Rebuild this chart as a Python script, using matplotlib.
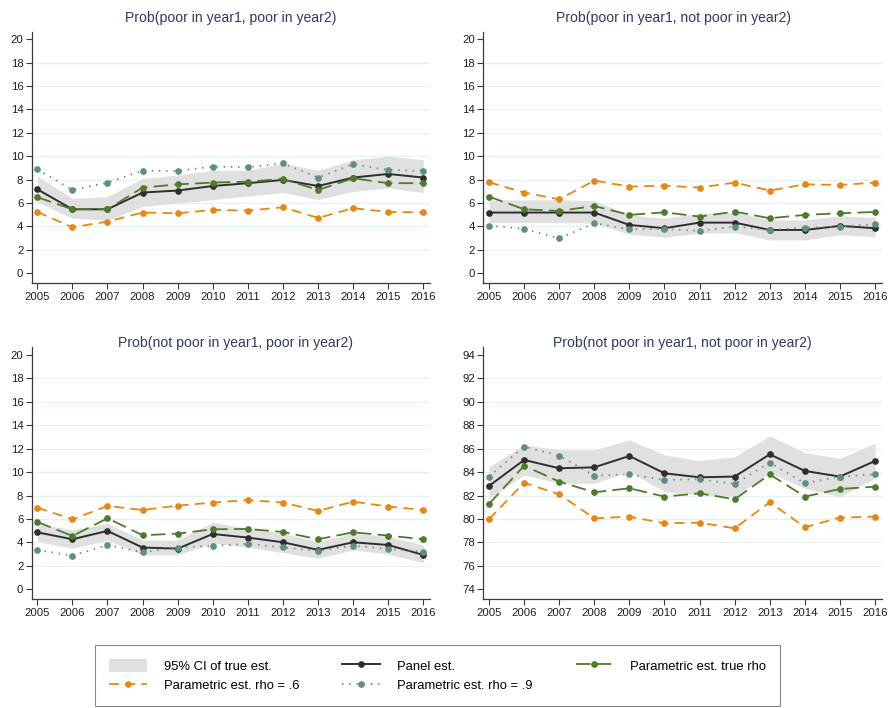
import matplotlib
matplotlib.use("Agg")
import matplotlib.pyplot as plt
from matplotlib.lines import Line2D
from matplotlib.patches import Patch

plt.rcParams['font.family'] = ['Liberation Sans', 'DejaVu Sans']

years = list(range(2005, 2017))

# Prob(poor in year1, poor in year2)
pp_ci_lo = [6.1, 4.7, 4.55, 5.7, 6.0, 6.3, 6.6, 6.9, 6.3, 7.0, 7.3, 6.9]
pp_ci_hi = [8.3, 6.4, 6.55, 8.1, 8.4, 8.8, 8.8, 9.4, 8.8, 9.7, 10.0, 9.7]
pp_panel = [7.18, 5.47, 5.47, 6.90, 7.07, 7.46, 7.70, 7.98, 7.46, 8.18, 8.49, 8.18]
pp_true = [6.50, 5.47, 5.47, 7.32, 7.60, 7.75, 7.83, 8.06, 7.12, 8.12, 7.70, 7.70]
pp_rho6 = [5.24, 3.93, 4.42, 5.19, 5.13, 5.41, 5.36, 5.64, 4.73, 5.56, 5.24, 5.21]
pp_rho9 = [8.89, 7.12, 7.75, 8.77, 8.75, 9.12, 9.06, 9.40, 8.18, 9.32, 8.83, 8.75]

# Prob(poor in year1, not poor in year2)
pn_ci_lo = [4.33, 4.33, 4.33, 4.30, 3.33, 3.08, 3.42, 3.48, 2.85, 2.85, 3.28, 3.13]
pn_ci_hi = [6.27, 6.27, 6.27, 6.20, 5.00, 4.70, 5.13, 5.19, 4.56, 4.56, 4.90, 4.79]
pn_panel = [5.19, 5.19, 5.19, 5.19, 4.13, 3.85, 4.33, 4.33, 3.70, 3.70, 4.05, 3.85]
pn_true = [6.55, 5.47, 5.33, 5.75, 4.99, 5.21, 4.84, 5.27, 4.70, 4.99, 5.13, 5.24]
pn_rho6 = [7.78, 6.90, 6.32, 7.92, 7.41, 7.49, 7.32, 7.75, 7.07, 7.60, 7.55, 7.75]
pn_rho9 = [4.07, 3.79, 2.99, 4.27, 3.76, 3.79, 3.62, 3.99, 3.70, 3.90, 3.99, 4.19]

# Prob(not poor in year1, poor in year2)
np_ci_lo = [4.07, 3.50, 4.20, 2.93, 2.93, 3.93, 3.58, 3.13, 2.65, 3.36, 2.99, 2.28]
np_ci_hi = [5.63, 5.06, 5.63, 4.20, 4.20, 5.72, 5.20, 4.78, 4.07, 4.78, 4.50, 3.78]
np_panel = [4.86, 4.27, 4.98, 3.56, 3.47, 4.72, 4.41, 4.01, 3.36, 4.01, 3.78, 2.93]
np_true = [5.75, 4.55, 6.06, 4.61, 4.75, 5.12, 5.15, 4.89, 4.27, 4.86, 4.58, 4.27]
np_rho6 = [6.97, 5.97, 7.11, 6.77, 7.14, 7.40, 7.62, 7.40, 6.69, 7.48, 7.06, 6.77]
np_rho9 = [3.36, 2.87, 3.78, 3.16, 3.56, 3.70, 3.87, 3.58, 3.27, 3.73, 3.44, 3.22]

# Prob(not poor in year1, not poor in year2)
nn_ci_lo = [81.77, 83.76, 83.05, 83.05, 84.04, 82.34, 82.05, 81.91, 83.96, 82.62, 81.91, 83.47]
nn_ci_hi = [84.47, 86.32, 85.90, 85.90, 86.75, 85.47, 84.98, 85.32, 87.09, 85.66, 85.18, 86.46]
nn_panel = [82.82, 85.04, 84.33, 84.41, 85.38, 83.90, 83.56, 83.62, 85.52, 84.10, 83.62, 84.95]
nn_true = [81.28, 84.55, 83.19, 82.28, 82.62, 81.91, 82.19, 81.68, 83.81, 81.91, 82.56, 82.76]
nn_rho6 = [79.97, 83.10, 82.10, 80.06, 80.20, 79.63, 79.69, 79.20, 81.43, 79.29, 80.12, 80.20]
nn_rho9 = [83.62, 86.18, 85.41, 83.70, 83.81, 83.33, 83.39, 82.99, 84.81, 83.05, 83.62, 83.81]

titles = [
    "Prob(poor in year1, poor in year2)",
    "Prob(poor in year1, not poor in year2)",
    "Prob(not poor in year1, poor in year2)",
    "Prob(not poor in year1, not poor in year2)",
]

legend_labels = [
    "95% CI of true est.",
    "Parametric est. rho = .6",
    "Panel est.",
    "Parametric est. rho = .9",
    "Parametric est. true rho",
]

C_CI = "#e0e0e0"
C_PANEL = "#2e2e2e"
C_TRUE = "#4d7a2c"
C_RHO6 = "#e8870f"
C_RHO9 = "#5f8f82"
C_GRID = "#e6f1f1"
C_TITLE = "#2f3a63"
C_TEXT = "#1e1e1e"

W, H = 891, 708
fig = plt.figure(figsize=(W / 100, H / 100), dpi=100)


def add_axes_px(x0, x1, ytop, ybot):
    return fig.add_axes([x0 / W, 1 - ybot / H, (x1 - x0) / W, (ybot - ytop) / H])


# (axes, title centre x, title centre y, series, y-range)
panels = [
    (add_axes_px(31.7, 430.0, 31.7, 283.2), 231, 18,
     (pp_ci_lo, pp_ci_hi, pp_panel, pp_true, pp_rho6, pp_rho9), (0, 20)),
    (add_axes_px(483.4, 881.7, 31.7, 283.2), 674, 18,
     (pn_ci_lo, pn_ci_hi, pn_panel, pn_true, pn_rho6, pn_rho9), (0, 20)),
    (add_axes_px(31.7, 430.0, 347.4, 599.2), 236, 343,
     (np_ci_lo, np_ci_hi, np_panel, np_true, np_rho6, np_rho9), (0, 20)),
    (add_axes_px(483.4, 881.7, 347.4, 599.2), 682, 343,
     (nn_ci_lo, nn_ci_hi, nn_panel, nn_true, nn_rho6, nn_rho9), (74, 94)),
]

ms = 3.8
for (ax, title_x, title_y, series, (lo, hi)), title in zip(panels, titles):
    ci_lo, ci_hi, panel, true, rho6, rho9 = series
    ax.fill_between(years, ci_lo, ci_hi, color=C_CI, lw=0, zorder=1)
    ax.plot(years, panel, color=C_PANEL, lw=1.4, marker="o", ms=ms, zorder=3)
    ax.plot(years, true, color=C_TRUE, lw=1.3, marker="o", ms=ms,
            dashes=(8, 3.5), zorder=4)
    ax.plot(years, rho6, color=C_RHO6, lw=1.3, marker="o", ms=ms,
            dashes=(5.5, 3.5), zorder=4)
    ax.plot(years, rho9, color=C_RHO9, lw=1.3, marker="o", ms=ms,
            dashes=(0.8, 3.2), zorder=5)

    span = hi - lo
    ax.set_xlim(2005 - 0.16, 2016 + 0.19)
    ax.set_ylim(lo - 0.0425 * span, hi + 0.0325 * span)
    ticks = list(range(lo, hi + 1, 2))
    ax.set_yticks(ticks)
    ax.set_xticks(years)
    ax.set_xticklabels([str(y) for y in years])
    for t in ticks[1:-1]:
        ax.axhline(t, color=C_GRID, lw=0.9, zorder=0)

    for side in ("top", "right"):
        ax.spines[side].set_visible(False)
    for side in ("left", "bottom"):
        ax.spines[side].set_color("#3a3a3a")
        ax.spines[side].set_linewidth(0.9)
    ax.tick_params(direction="out", length=4, width=0.8, color="#3a3a3a",
                   labelsize=8.2, labelcolor=C_TEXT, pad=2)
    ax.patch.set_alpha(0)

    fig.text(title_x / W, 1 - title_y / H, title, ha="center",
             va="center", fontsize=10.1, color=C_TITLE)

handles = [
    Patch(facecolor=C_CI, edgecolor="none"),
    Line2D([], [], color=C_RHO6, lw=1.3, marker="o", ms=ms, dashes=(5.5, 3.5)),
    Line2D([], [], color=C_PANEL, lw=1.4, marker="o", ms=ms),
    Line2D([], [], color=C_RHO9, lw=1.3, marker="o", ms=ms, dashes=(0.8, 3.2)),
    Line2D([], [], color=C_TRUE, lw=1.3, marker="o", ms=ms, dashes=(8, 3.5)),
]
leg = fig.legend(handles, legend_labels, ncol=3, loc="upper left",
                 bbox_to_anchor=(95 / W, 1 - 645 / H), fontsize=9.4,
                 frameon=True, fancybox=False, edgecolor="#6a6a6a",
                 handlelength=2.9, handleheight=1.15, handletextpad=1.3,
                 columnspacing=3.3, labelspacing=0.42, borderpad=1.05,
                 borderaxespad=0)
leg.get_frame().set_linewidth(0.8)

fig.savefig("out.png", dpi=100, facecolor="white")
